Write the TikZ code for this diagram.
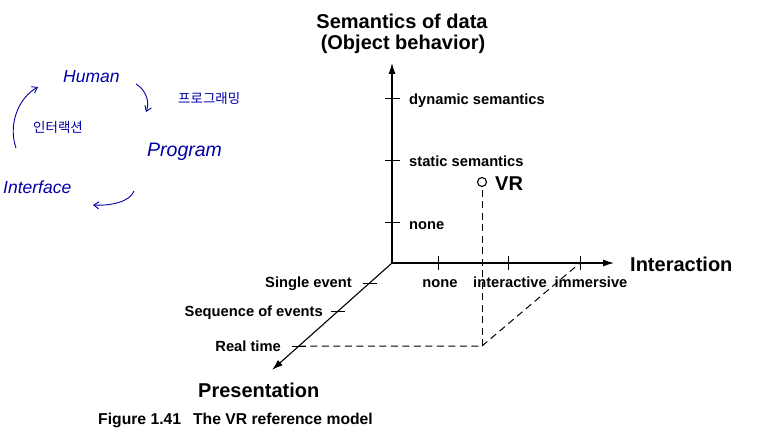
\documentclass[tikz,border=0pt]{standalone}
\usepackage{fontspec}
\setmainfont{Liberation Sans}
\newfontfamily\krfont{Noto Sans CJK KR}
\usetikzlibrary{arrows.meta,calc}
\tikzset{
  axis/.style={line width=1.1pt,-{Latex[length=11pt,width=7pt]}},
  tickline/.style={line width=1pt},
  proj/.style={line width=1pt,dash pattern=on 7pt off 4.5pt},
  lbl/.style={font=\bfseries\fontsize{14.7}{16}\selectfont,inner sep=0pt},
  big/.style={font=\bfseries\fontsize{20}{23}\selectfont,inner sep=0pt},
  figcaption/.style={font=\bfseries\fontsize{15.7}{17}\selectfont,inner sep=0pt},
  hand/.style={text=blue!65!black,font=\fontsize{17.5}{19}\selectfont\itshape,inner sep=0pt},
  handkr/.style={text=blue!65!black,font=\krfont\fontsize{13.5}{15}\selectfont,inner sep=0pt},
  handarrow/.style={draw=blue!65!black,line width=0.9pt,-{Straight Barb[length=5pt,width=7pt]}}
}
\begin{document}
\begin{tikzpicture}[x=1pt,y=-1pt]
\useasboundingbox (0,0) rectangle (758,436);
\fill[white] (0,0) rectangle (758,436);
% axes
\coordinate (O) at (392,263);
\coordinate (Vtop) at (392,63);
\coordinate (Htip) at (614,263);
\coordinate (Dtip) at (272,370);
\draw[axis] (O) -- (Vtop);
\draw[axis] (O) -- (Htip);
\draw[axis] (O) -- (Dtip);
% vertical ticks
\foreach \y/\n in {98/vd,160/vs,222/vn}{
  \coordinate (\n) at (392,\y);
  \draw[tickline] ($(\n)+(-7,0)$) -- ($(\n)+(8,0)$);
}
% horizontal ticks
\foreach \x/\n in {438/hn,508/hi,580/hm}{
  \coordinate (\n) at (\x,263);
  \draw[tickline] ($(\n)+(0,-7)$) -- ($(\n)+(0,7)$);
}
% diagonal ticks
\foreach \t/\n in {0.187/ds,0.449/dq,0.776/dr}{
  \coordinate (\n) at ($(O)!\t!(Dtip)$);
  \draw[tickline] ($(\n)+(-7,0)$) -- ($(\n)+(7,0)$);
}
% labels
\node[big,anchor=base] (t1) at (402,29) {Semantics of data};
\node[big,anchor=base] (t2) at (403,50) {(Object behavior)};
\node[lbl,anchor=base west] (l1) at (409,104) {dynamic semantics};
\node[lbl,anchor=base west] (l2) at (409,166) {static semantics};
\node[lbl,anchor=base west] (l3) at (409,229) {none};
\node[lbl,anchor=base] (h1) at (440,287) {none};
\node[lbl,anchor=base] (h2) at (510,287) {interactive};
\node[lbl,anchor=base] (h3) at (591,287) {immersive};
\node[big,anchor=base west] (hx) at (630,271) {Interaction};
\node[lbl,anchor=base east] (d1) at (352,287) {Single event};
\node[lbl,anchor=base east] (d2) at (323,316) {Sequence of events};
\node[lbl,anchor=base east] (d3) at (281,351) {Real time};
\node[big,anchor=base west] (pr) at (198,397) {Presentation};
\node[figcaption,anchor=base west] (cp) at (98,424) {Figure 1.41\hspace{12pt}The VR reference model};
% VR point and projections
\node[circle,draw,line width=1.1pt,fill=white,minimum size=9pt,inner sep=0pt] (vr) at (482,182) {};
\node[big,anchor=base west] (vrl) at (495,190) {VR};
\coordinate (C) at (482,346);
\draw[proj] (dr) -- (C);
\draw[proj] (C) -- (vr.south);
\draw[proj] (C) -- (hm);
% handwritten notes
\node[hand,anchor=base west] (hu) at (63,83) {Human};
\node[hand,anchor=base west,font=\fontsize{19.5}{21}\selectfont\itshape] (pg) at (147,156) {Program};
\node[hand,anchor=base west] (in) at (3,193) {Interface};
\node[handkr,anchor=west] (k1) at (178,98) {프로그래밍};
\node[handkr,anchor=west] (k2) at (33,127) {인터랙션};
\coordinate (a1s) at (136,84);
\coordinate (a1e) at (146,112);
\draw[handarrow] (a1s) .. controls (146,90) and (150,102) .. (a1e);
\coordinate (a2s) at (134,191);
\coordinate (a2e) at (93,205);
\draw[handarrow] (a2s) .. controls (130,202) and (110,206) .. (a2e);
\coordinate (a3s) at (16,148);
\coordinate (a3e) at (38,87);
\draw[handarrow] (a3s) .. controls (8,125) and (18,98) .. (a3e);
\end{tikzpicture}
\end{document}
